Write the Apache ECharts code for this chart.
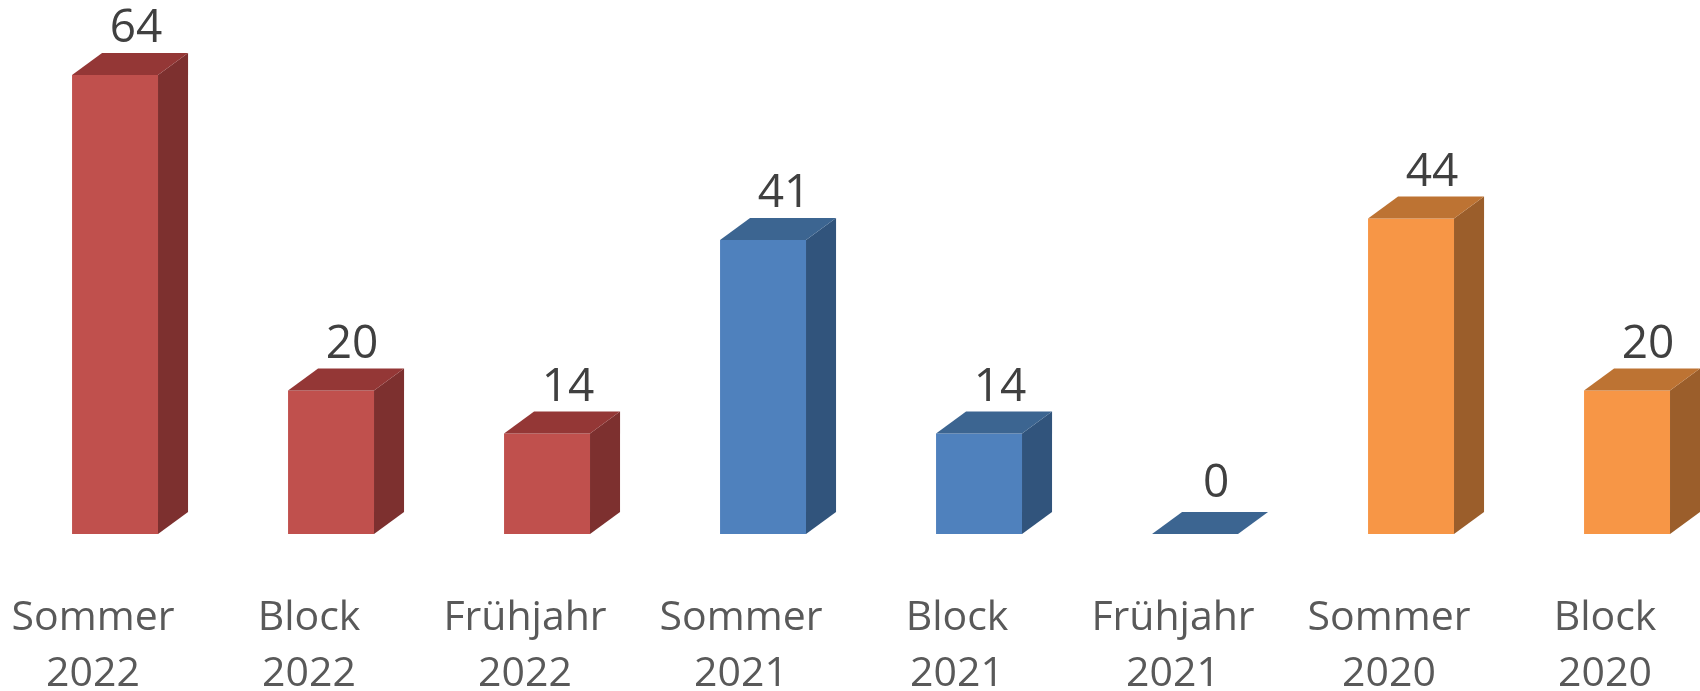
<!DOCTYPE html>
<html>
<head>
<meta charset="utf-8">
<script src="https://cdn.jsdelivr.net/npm/echarts@6/dist/echarts.min.js"></script>
<style>
html,body{margin:0;padding:0;background:#fff;}
#chart{width:1700px;height:691px;}
</style>
</head>
<body>
<div id="chart"></div>
<script>
const categories = ['Sommer\n2022','Block\n2022','Frühjahr\n2022','Sommer\n2021','Block\n2021','Frühjahr\n2021','Sommer\n2020','Block\n2020'];
const values = [64, 20, 14, 41, 14, 0, 44, 20];
const years = ['2022','2022','2022','2021','2021','2021','2020','2020'];

const palette = {
  '2022': {front:'#C0504D', top:'#943736', side:'#7D302F'},
  '2021': {front:'#4F81BD', top:'#3C6591', side:'#31547C'},
  '2020': {front:'#F79646', top:'#BD7333', side:'#9B5E2B'}
};

const chart = echarts.init(document.getElementById('chart'), null, {renderer:'canvas'});

function renderItem(params, api){
  const i = params.dataIndex;
  const v = api.value(1);
  const base = api.coord([i, 0]);
  const top = api.coord([i, v]);
  const band = api.size([1, 0])[0];
  const w = band * 0.398, off = band * 0.102, dx = band * 0.139, dy = 22;
  const x0 = base[0] + off - w / 2, x1 = x0 + w;
  const yb = base[1], yt = top[1];
  const c = palette[years[i]];
  const children = [];
  if (yb - yt > 0.5) {
    children.push({type:'rect', shape:{x:x0, y:yt, width:w, height:yb-yt}, style:{fill:c.front}});
    children.push({type:'polygon', shape:{points:[[x1,yt],[x1+dx,yt-dy],[x1+dx,yb-dy],[x1,yb]]}, style:{fill:c.side}});
  }
  children.push({type:'polygon', shape:{points:[[x0,yt],[x0+dx,yt-dy],[x1+dx,yt-dy],[x1,yt]]}, style:{fill:c.top}});
  children.push({type:'text', style:{
    text:String(v), x:base[0] + off + 21, y:yt - (v > 0 ? 46 : 50),
    align:'center', verticalAlign:'middle',
    font:'46px "Open Sans"', fill:'#404040'
  }});
  return {type:'group', children};
}

chart.setOption({
  backgroundColor:'#ffffff',
  animation:false,
  grid:{left:-15, width:1728, top:32, bottom:157, containLabel:false, outerBoundsMode:'none'},
  xAxis:{
    type:'category',
    data:categories,
    axisLine:{show:false},
    axisTick:{show:false},
    splitLine:{show:false},
    axisLabel:{
      interval:0,
      margin:56,
      fontFamily:'Open Sans',
      fontSize:41,
      lineHeight:56,
      color:'#595959'
    }
  },
  yAxis:{type:'value', min:0, max:70, show:false, splitLine:{show:false}},
  series:[{
    type:'custom',
    renderItem:renderItem,
    data:values.map((v,i)=>[i,v]),
    encode:{x:0, y:1},
    clip:false
  }]
});
</script>
</body>
</html>
